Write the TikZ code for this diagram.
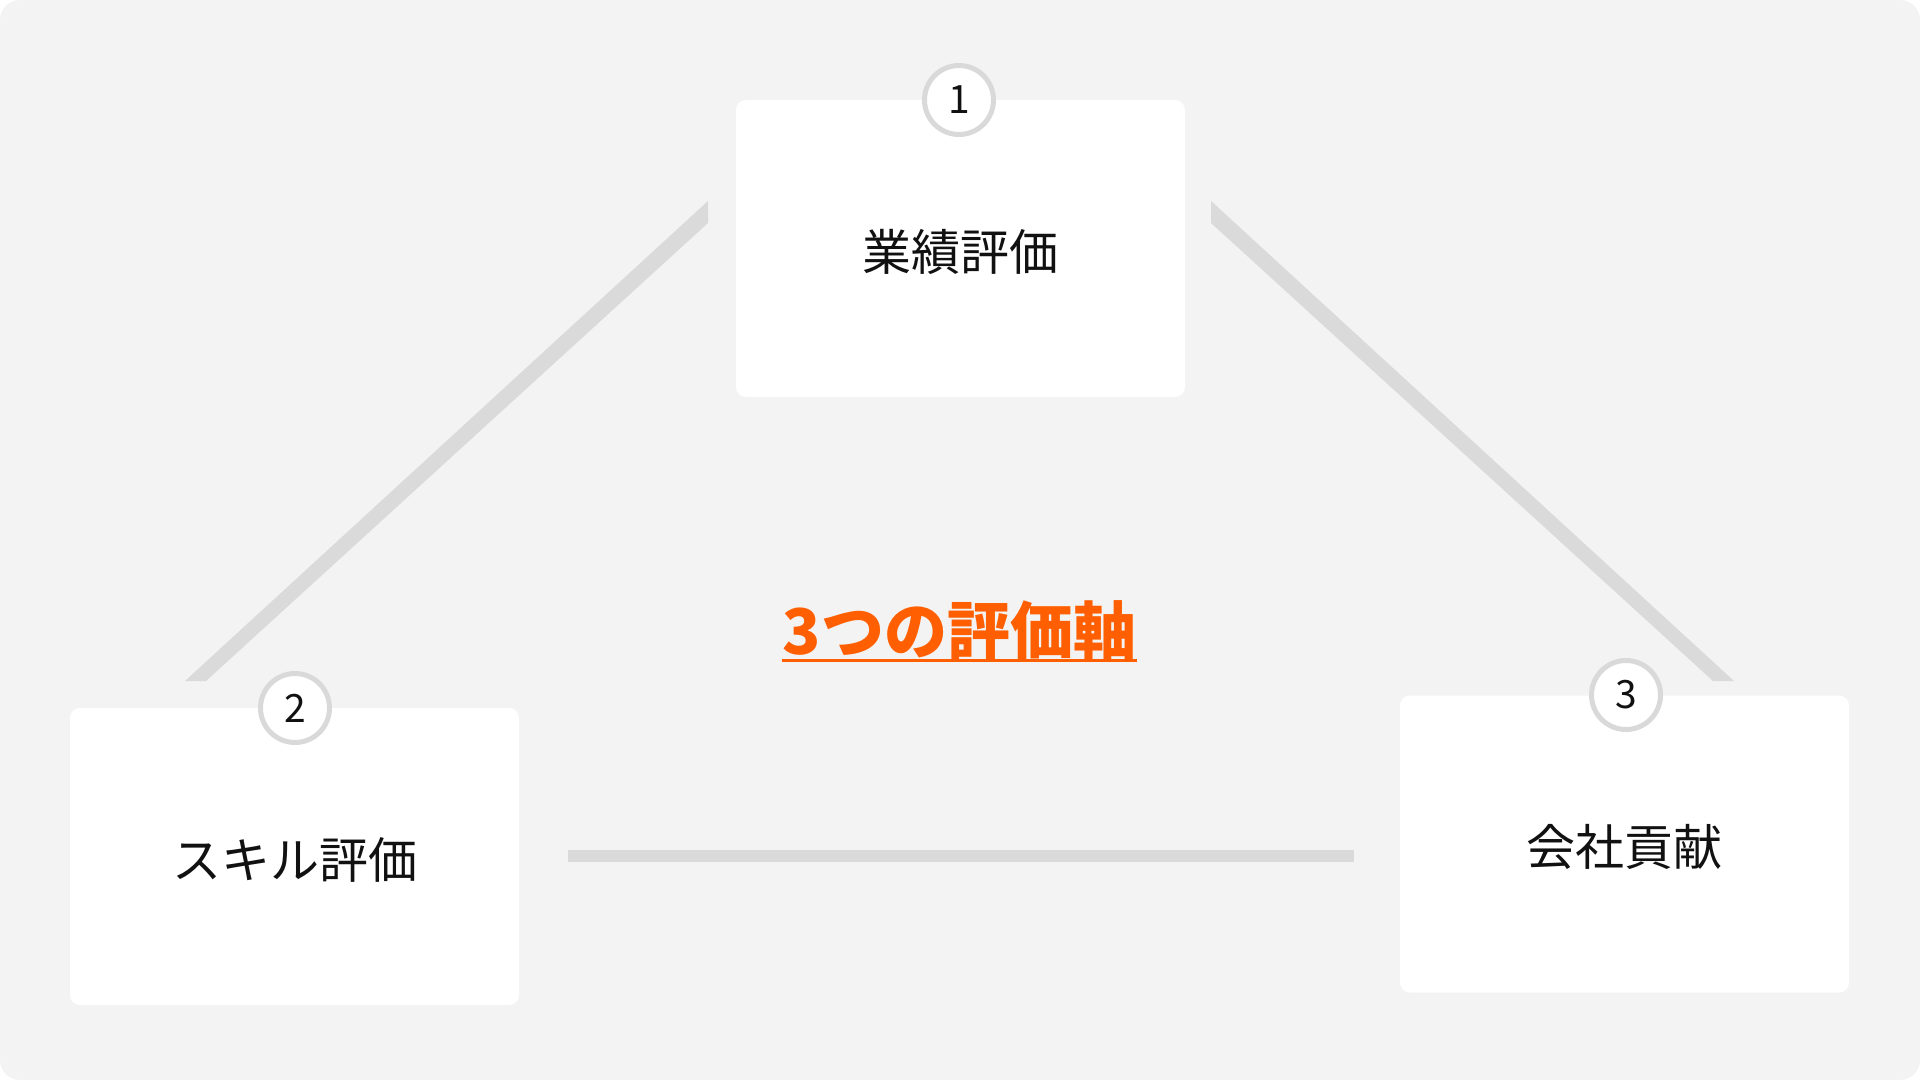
\documentclass[tikz,border=0pt]{standalone}
\usepackage{fontspec}
\newfontfamily\jp{Noto Sans CJK JP}
\definecolor{bgc}{HTML}{F3F3F3}
\definecolor{linec}{HTML}{DADADA}
\definecolor{ringc}{HTML}{D9D9D9}
\definecolor{orangec}{HTML}{FF5F00}
\definecolor{textc}{HTML}{111111}
\tikzset{
  card/.style={rectangle, fill=white, rounded corners=5pt, minimum width=224.5pt,
    minimum height=148.5pt, inner sep=0pt},
  cardtext/.style={inner sep=0pt, text=textc, font=\jp\fontsize{24.5}{28}\selectfont},
  badge/.style={circle, fill=white, draw=ringc, line width=2.5pt, minimum size=34.5pt,
    inner sep=0pt, text=textc, font=\jp\fontsize{19.5}{22}\selectfont},
  link/.style={fill=linec},
  titletext/.style={inner sep=0pt, text=orangec, font=\jp\bfseries\fontsize{31.5}{36}\selectfont}
}
\begin{document}
\begin{tikzpicture}[x=0.5pt,y=-0.5pt]
\useasboundingbox (0,0) rectangle (1920,1080);
\fill[white] (0,0) rectangle (1920,1080);
\fill[bgc, rounded corners=10pt] (0,0) rectangle (1920,1080);

% connector end coordinates
\coordinate (la1) at (708,201);
\coordinate (la2) at (708,223);
\coordinate (lb1) at (206,681);
\coordinate (lb2) at (185,681);
\coordinate (ra1) at (1211,201);
\coordinate (ra2) at (1211,223);
\coordinate (rb1) at (1713,681);
\coordinate (rb2) at (1734,681);
\coordinate (ba) at (568,856);
\coordinate (bb) at (1354,856);

\fill[link] (la1) -- (la2) -- (lb1) -- (lb2) -- cycle;
\fill[link] (ra1) -- (ra2) -- (rb1) -- (rb2) -- cycle;
\draw[linec, line width=6pt] (ba) -- (bb);

% cards
\node[card] (k1) at (960.5,248.5) {};
\node[card] (k2) at (294.5,856.5) {};
\node[card] (k3) at (1624.5,844) {};
\node[cardtext] (x1) at ([yshift=-1.5pt]k1.center) {業績評価};
\node[cardtext] (x2) at ([yshift=-1.5pt]k2.center) {スキル評価};
\node[cardtext] (x3) at ([yshift=-1.5pt]k3.center) {会社貢献};

% badges
\node[badge] (b1) at (959,100) {1};
\node[badge] (b2) at (295,708) {2};
\node[badge] (b3) at (1626,695) {3};

% title
\node[titletext, anchor=base] (t) at (959.5,654) {3つの評価軸};
\draw[orangec, line width=1.5pt] ([yshift=-3pt]t.base west) -- ([yshift=-3pt]t.base east);
\end{tikzpicture}
\end{document}
